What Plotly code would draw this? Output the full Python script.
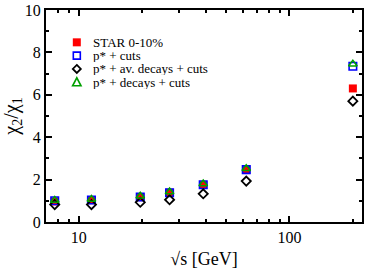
import plotly.graph_objects as go
import numpy as np

energies = [7.7, 11.5, 19.6, 27, 39, 62.4, 200]
star = [0.97, 1.03, 1.17, 1.38, 1.75, 2.45, 6.3]
p_cuts = [1.0, 1.04, 1.18, 1.38, 1.76, 2.47, 7.35]
p_av_decays = [0.82, 0.82, 0.93, 1.05, 1.33, 1.93, 5.7]
p_decays = [1.02, 1.07, 1.22, 1.42, 1.80, 2.52, 7.45]

names = ["STAR 0-10%", "p* + cuts", "p* + av. decays + cuts", "p* + decays + cuts"]
colors = ["#ff0000", "#0000ff", "#000000", "#00a000"]

font = "Liberation Serif"

fig = go.Figure()
fig.add_trace(go.Scatter(x=energies, y=star, mode="markers", name=names[0],
                         marker=dict(symbol="square", size=8, color=colors[0],
                                     line=dict(width=0))))
fig.add_trace(go.Scatter(x=energies, y=p_cuts, mode="markers", name=names[1],
                         marker=dict(symbol="square-open", size=7.5, color=colors[1],
                                     line=dict(width=1.6))))
fig.add_trace(go.Scatter(x=energies, y=p_av_decays, mode="markers", name=names[2],
                         marker=dict(symbol="diamond-open", size=7, color=colors[2],
                                     line=dict(width=1.8))))
fig.add_trace(go.Scatter(x=energies, y=p_decays, mode="markers", name=names[3],
                         marker=dict(symbol="triangle-up-open", size=7.5, color=colors[3],
                                     line=dict(width=1.6))))

# manual legend (compact row spacing)
leg_x = 0.0975
leg_text_x = 0.147
leg_y = [0.8475, 0.7848, 0.722, 0.659]
shapes = []
annotations = []
shapes.append(dict(type="rect", xref="paper", yref="paper", xsizemode="pixel", ysizemode="pixel",
                   xanchor=leg_x, yanchor=leg_y[0], x0=-4, x1=4, y0=-4, y1=4,
                   fillcolor=colors[0], line=dict(width=0)))
shapes.append(dict(type="rect", xref="paper", yref="paper", xsizemode="pixel", ysizemode="pixel",
                   xanchor=leg_x, yanchor=leg_y[1], x0=-3.5, x1=3.5, y0=-3.5, y1=3.5,
                   line=dict(color=colors[1], width=1.6)))
shapes.append(dict(type="path", xref="paper", yref="paper", xsizemode="pixel", ysizemode="pixel",
                   xanchor=leg_x, yanchor=leg_y[2], path="M0,4 L4,0 L0,-4 L-4,0 Z",
                   line=dict(color=colors[2], width=1.8)))
shapes.append(dict(type="path", xref="paper", yref="paper", xsizemode="pixel", ysizemode="pixel",
                   xanchor=leg_x, yanchor=leg_y[3], path="M-4.2,-3.5 L4.2,-3.5 L0,4.5 Z",
                   line=dict(color=colors[3], width=1.6)))
for n, yy in zip(names, leg_y):
    annotations.append(dict(text=n, x=leg_text_x, y=yy, xref="paper", yref="paper",
                            xanchor="left", yanchor="middle", showarrow=False,
                            height=13, valign="middle", borderpad=0,
                            font=dict(size=13, family=font, color="black")))

xminor = [8, 9, 20, 30, 40, 50, 60, 70, 80, 90, 200]

fig.update_layout(
    width=366, height=269,
    margin=dict(l=46, r=2, t=6, b=40),
    paper_bgcolor="white", plot_bgcolor="white",
    font=dict(family=font, size=16, color="black"),
    showlegend=False,
    shapes=shapes,
    annotations=annotations,
    xaxis=dict(type="log", range=[np.log10(7), np.log10(221)],
               tickvals=[10, 100], ticktext=["10", "100"],
               ticks="inside", ticklen=6, tickwidth=1.5, tickcolor="black",
               minor=dict(tickvals=xminor, ticks="inside", ticklen=3, tickwidth=1.5, tickcolor="black"),
               showline=True, linewidth=2, linecolor="black", mirror="ticks",
               showgrid=False, zeroline=False,
               tickfont=dict(size=16, family=font),
               title=dict(text="√s [GeV]", font=dict(size=18, family=font), standoff=8)),
    yaxis=dict(range=[0, 10], tickvals=[0, 2, 4, 6, 8, 10],
               ticks="inside", ticklen=6, tickwidth=1.5, tickcolor="black",
               minor=dict(tickvals=[1, 3, 5, 7, 9], ticks="inside", ticklen=3, tickwidth=1.5, tickcolor="black"),
               showline=True, linewidth=2, linecolor="black", mirror="ticks",
               showgrid=False, zeroline=False, ticklabeloverflow="allow",
               tickfont=dict(size=16, family=font),
               title=dict(text="χ<sub>2</sub>/χ<sub>1</sub>", font=dict(size=20, family=font), standoff=6)),
)

fig.write_html("out.html", post_script="document.body.style.margin='0';",
               config={"displayModeBar": False})
